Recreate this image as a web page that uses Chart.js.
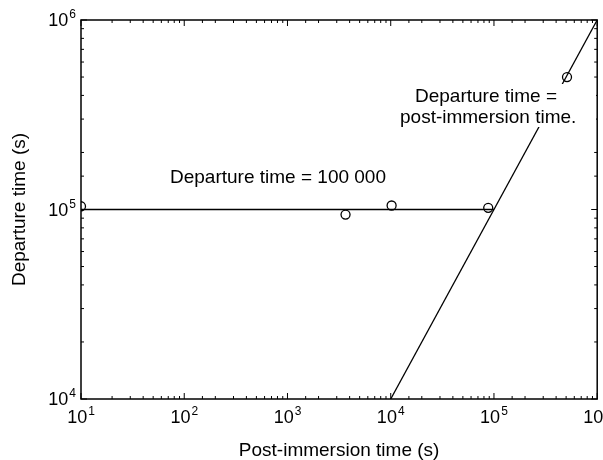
<!DOCTYPE html>
<html>
<head>
<meta charset="utf-8">
<script src="https://cdn.jsdelivr.net/npm/chart.js@4/dist/chart.umd.min.js"></script>
<style>
  html, body { margin: 0; padding: 0; background: #fff; overflow: hidden; }
  #wrap { width: 603px; height: 460px; }
</style>
</head>
<body>
<div id="wrap"><canvas id="departureChart" width="603" height="460"></canvas></div>
<script>
// observed points (post-immersion time, departure time)
const obsX = [10, 3650, 10200, 88000, 510000];
const obsY = [104000, 94000, 105000, 102000, 500000];

// fitted lines
const flatX = [10, 100000];
const flatY = [100000, 100000];
const equalX = [10000, 1000000];
const equalY = [10000, 1000000];

// axis decades
const xTicks = [10, 100, 1000, 10000, 100000, 1000000];
const yTicks = [10000, 100000, 1000000];

const FONT = '"Liberation Sans", Arial, sans-serif';

const toPoints = (xs, ys) => xs.map((x, i) => ({ x: x, y: ys[i] }));
const isDecade = v => Math.abs(Math.log10(v) - Math.round(Math.log10(v))) < 1e-9;

// "10" with a raised exponent; align is 'center' or 'right'
function drawPow(ctx, v, x, y, align) {
  const exp = String(Math.round(Math.log10(v)));
  ctx.font = '18px ' + FONT;
  const wb = ctx.measureText('10').width;
  ctx.font = '12px ' + FONT;
  const we = ctx.measureText(exp).width;
  const w = wb + we + 1;
  const x0 = align === 'right' ? x - w : x - w / 2;
  ctx.font = '18px ' + FONT;
  ctx.fillText('10', x0, y);
  ctx.font = '12px ' + FONT;
  ctx.fillText(exp, x0 + wb + 1, y - 8);
}

// inward tick marks on all four sides, decade labels, annotations
const framePlugin = {
  id: 'frame',
  afterDatasetsDraw(chart) {
    const { ctx, chartArea: a, scales } = chart;
    ctx.save();
    ctx.strokeStyle = '#000';
    ctx.lineWidth = 1;
    ctx.beginPath();
    scales.x.ticks.forEach(t => {
      const px = scales.x.getPixelForValue(t.value);
      const len = isDecade(t.value) ? 6 : 3;
      ctx.moveTo(px, a.bottom); ctx.lineTo(px, a.bottom - len);
      ctx.moveTo(px, a.top); ctx.lineTo(px, a.top + len);
    });
    scales.y.ticks.forEach(t => {
      const py = scales.y.getPixelForValue(t.value);
      const len = isDecade(t.value) ? 6 : 3;
      ctx.moveTo(a.left, py); ctx.lineTo(a.left + len, py);
      ctx.moveTo(a.right, py); ctx.lineTo(a.right - len, py);
    });
    ctx.stroke();
    ctx.lineWidth = 1.5;
    ctx.strokeRect(a.left, a.top, a.right - a.left, a.bottom - a.top);

    ctx.fillStyle = '#000';
    ctx.textBaseline = 'alphabetic';
    ctx.textAlign = 'left';
    xTicks.forEach(v => drawPow(ctx, v, scales.x.getPixelForValue(v), a.bottom + 24, 'center'));
    yTicks.forEach(v => drawPow(ctx, v, a.left - 5, scales.y.getPixelForValue(v) + 6, 'right'));

    ctx.font = '19px ' + FONT;
    ctx.textBaseline = 'middle';
    ctx.fillText('Departure time = 100 000', 170, 178);

    ctx.fillStyle = '#fff';
    ctx.fillRect(398, 84, 198, 43);
    ctx.fillStyle = '#000';
    ctx.fillText('Departure time =', 415, 97);
    ctx.fillText('post-immersion time.', 400, 118);
    ctx.restore();
  }
};

new Chart(document.getElementById('departureChart'), {
  type: 'scatter',
  data: {
    datasets: [
      {
        data: toPoints(flatX, flatY),
        showLine: true,
        borderColor: '#000',
        borderWidth: 1.3,
        pointRadius: 0,
      },
      {
        data: toPoints(equalX, equalY),
        showLine: true,
        borderColor: '#000',
        borderWidth: 1.3,
        pointRadius: 0,
      },
      {
        data: toPoints(obsX, obsY),
        pointRadius: 4.5,
        pointBackgroundColor: 'rgba(0,0,0,0)',
        pointBorderColor: '#000',
        pointBorderWidth: 1.3,
        clip: 0,
      },
    ],
  },
  options: {
    responsive: false,
    animation: false,
    layout: { padding: { top: 20, right: 5, left: 0, bottom: 0 } },
    plugins: { legend: { display: false }, tooltip: { enabled: false } },
    scales: {
      x: {
        type: 'logarithmic',
        min: 10,
        max: 1000000,
        grid: { display: true, drawOnChartArea: false, drawTicks: false },
        border: { display: false },
        ticks: { autoSkip: false, display: false },
        title: {
          display: true,
          text: 'Post-immersion time (s)',
          color: '#000',
          font: { family: FONT, size: 19 },
          padding: { top: 38, bottom: -2 },
        },
        afterFit: s => { s.height = 61; s.paddingLeft = 0; s.paddingRight = 0; },
      },
      y: {
        type: 'logarithmic',
        min: 10000,
        max: 1000000,
        grid: { display: true, drawOnChartArea: false, drawTicks: false },
        border: { display: false },
        ticks: { autoSkip: false, display: false },
        title: {
          display: true,
          text: 'Departure time (s)',
          color: '#000',
          font: { family: FONT, size: 19 },
          padding: { top: 8 },
        },
        afterFit: s => { s.width = 81; s.paddingTop = 0; s.paddingBottom = 0; },
      },
    },
  },
  plugins: [framePlugin],
});
</script>
</body>
</html>
